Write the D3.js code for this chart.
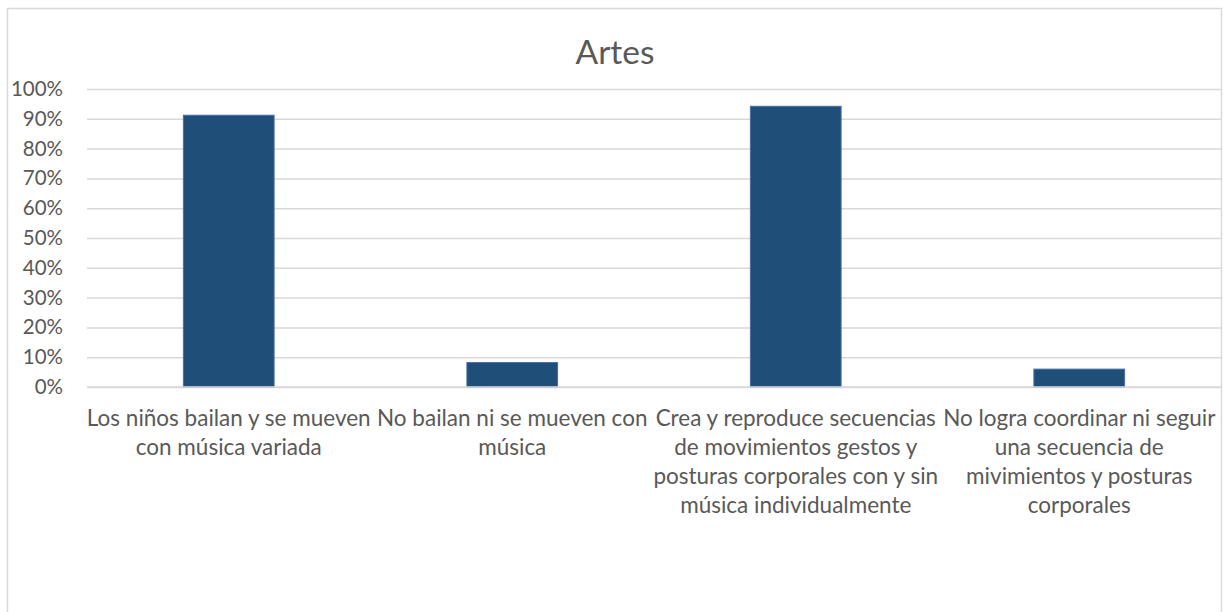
<!DOCTYPE html>
<html>
<head>
<meta charset="utf-8">
<script src="https://cdn.jsdelivr.net/npm/d3@7"></script>
<style>
  html, body { margin: 0; padding: 0; background: #fff; }
  svg { display: block; }
  text { font-family: Lato, "Open Sans", sans-serif; fill: #595959; }
</style>
</head>
<body>
<svg id="chart" width="1223" height="612"></svg>
<script>
const title = "Artes";
const categories = [
  "Los niños bailan y se mueven con música variada",
  "No bailan ni se mueven con música",
  "Crea y reproduce secuencias de movimientos gestos y posturas corporales con y sin música individualmente",
  "No logra coordinar ni seguir una secuencia de mivimientos y posturas corporales"
];
const categoryLines = [
  ["Los niños bailan y se mueven", "con música variada"],
  ["No bailan ni se mueven con", "música"],
  ["Crea y reproduce secuencias", "de movimientos gestos y", "posturas corporales con y sin", "música individualmente"],
  ["No logra coordinar ni seguir", "una secuencia de", "mivimientos y posturas", "corporales"]
];
const values = [0.912, 0.082, 0.942, 0.06];
const yTicks = [0, 0.1, 0.2, 0.3, 0.4, 0.5, 0.6, 0.7, 0.8, 0.9, 1.0];

const svg = d3.select("#chart");
const plot = { left: 87, right: 1221, top: 89, bottom: 387 };

// chart border
svg.append("rect")
  .attr("x", 7.5).attr("y", 8.5)
  .attr("width", 1214).attr("height", 620)
  .attr("fill", "#fff").attr("stroke", "#D9D9D9").attr("stroke-width", 1.5);

const x = d3.scaleBand()
  .domain(categories)
  .range([plot.left, plot.right])
  .paddingInner(0.68)
  .paddingOuter(0.34);

const y = d3.scaleLinear().domain([0, 1]).range([plot.bottom, plot.top]);

// gridlines + tick labels
const yAxis = d3.axisLeft(y)
  .tickValues(yTicks)
  .tickFormat(d3.format(".0%"))
  .tickSize(-(plot.right - plot.left))
  .tickPadding(24);

const gy = svg.append("g")
  .attr("transform", `translate(${plot.left},0)`)
  .call(yAxis);
gy.select(".domain").remove();
gy.selectAll(".tick line").attr("stroke", "#D9D9D9").attr("stroke-width", 1.5);
gy.selectAll(".tick text")
  .attr("font-size", 20.5)
  .attr("fill", "#595959")
  .style("font-family", "Lato, 'Open Sans', sans-serif");

// bars
svg.append("g").selectAll("rect")
  .data(values)
  .join("rect")
  .attr("x", (d, i) => x(categories[i]))
  .attr("width", x.bandwidth())
  .attr("y", d => y(d))
  .attr("height", d => y(0) - y(d))
  .attr("fill", "#1F4E79")
  .attr("stroke", "#4A6FA8")
  .attr("stroke-width", 1);

// x axis baseline
svg.append("line")
  .attr("x1", plot.left).attr("x2", plot.right)
  .attr("y1", y(0)).attr("y2", y(0))
  .attr("stroke", "#D9D9D9").attr("stroke-width", 1.5);

// category labels
const lab = svg.append("g");
categories.forEach((c, i) => {
  const cx = x(c) + x.bandwidth() / 2;
  const t = lab.append("text")
    .attr("text-anchor", "middle")
    .attr("font-size", 22.5);
  categoryLines[i].forEach((ln, j) => {
    t.append("tspan").attr("x", cx).attr("y", 426 + j * 29).text(ln);
  });
});

// title
svg.append("text")
  .attr("x", 615).attr("y", 64)
  .attr("text-anchor", "middle")
  .attr("font-size", 33.5)
  .text(title);
</script>
</body>
</html>
